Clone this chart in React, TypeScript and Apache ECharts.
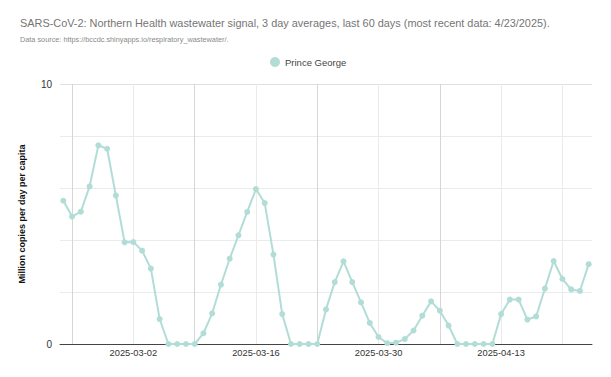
import React, { useEffect, useRef } from "react";
import * as echarts from "echarts";

const dates = [
  "2025-02-22", "2025-02-23", "2025-02-24", "2025-02-25", "2025-02-26", "2025-02-27", "2025-02-28",
  "2025-03-01", "2025-03-02", "2025-03-03", "2025-03-04", "2025-03-05", "2025-03-06", "2025-03-07",
  "2025-03-08", "2025-03-09", "2025-03-10", "2025-03-11", "2025-03-12", "2025-03-13", "2025-03-14",
  "2025-03-15", "2025-03-16", "2025-03-17", "2025-03-18", "2025-03-19", "2025-03-20", "2025-03-21",
  "2025-03-22", "2025-03-23", "2025-03-24", "2025-03-25", "2025-03-26", "2025-03-27", "2025-03-28",
  "2025-03-29", "2025-03-30", "2025-03-31", "2025-04-01", "2025-04-02", "2025-04-03", "2025-04-04",
  "2025-04-05", "2025-04-06", "2025-04-07", "2025-04-08", "2025-04-09", "2025-04-10", "2025-04-11",
  "2025-04-12", "2025-04-13", "2025-04-14", "2025-04-15", "2025-04-16", "2025-04-17", "2025-04-18",
  "2025-04-19", "2025-04-20", "2025-04-21", "2025-04-22", "2025-04-23",
];

const princeGeorge = [
  5.51, 4.9, 5.09, 6.06, 7.64, 7.51, 5.71,
  3.91, 3.92, 3.59, 2.9, 0.96, 0, 0,
  0, 0, 0.41, 1.18, 2.28, 3.28, 4.18,
  5.08, 5.96, 5.42, 3.44, 1.15, 0, 0,
  0, 0, 1.33, 2.38, 3.18, 2.38, 1.6,
  0.81, 0.27, 0.03, 0.05, 0.19, 0.52, 1.09,
  1.64, 1.28, 0.71, 0, 0, 0, 0,
  0, 1.15, 1.71, 1.71, 0.94, 1.06, 2.13,
  3.19, 2.5, 2.1, 2.04, 3.07,
];

const gridTickDates = [
  "2025-02-23", "2025-03-02", "2025-03-09", "2025-03-16", "2025-03-23",
  "2025-03-30", "2025-04-06", "2025-04-13", "2025-04-20",
];
const labelTickDates = ["2025-03-02", "2025-03-16", "2025-03-30", "2025-04-13"];
const yLabelValues = [0, 10];

const FONT = "'Liberation Sans', Arial, sans-serif";
const LINE_COLOR = "#b2ddd7";

export default function App() {
  const ref = useRef<HTMLDivElement>(null);
  useEffect(() => {
    if (!ref.current) return;
    const chart = echarts.init(ref.current, undefined, { renderer: "svg" });
    const ts = (d: string) => new Date(d + "T00:00:00").getTime();
    const DAY = 86400000;
    const first = ts(dates[0]);
    const last = ts(dates[dates.length - 1]);
    chart.setOption({
      animation: false,
      textStyle: { fontFamily: FONT },
      title: {
        text: "SARS-CoV-2: Northern Health wastewater signal, 3 day averages, last 60 days (most recent data: 4/23/2025).",
        subtext: "Data source: https://bccdc.shinyapps.io/respiratory_wastewater/.",
        left: 15,
        top: 12,
        itemGap: 8,
        textStyle: { fontSize: 10.9, fontWeight: "normal", color: "#757575", fontFamily: FONT },
        subtextStyle: { fontSize: 7.3, color: "#8a8a8a", fontFamily: FONT },
      },
      legend: {
        top: 52,
        left: 265,
        icon: "circle",
        itemWidth: 10,
        itemHeight: 10,
        itemGap: 10,
        textStyle: { fontSize: 9.5, color: "#444", fontFamily: FONT },
        data: ["Prince George"],
      },
      grid: { left: 60, right: 19, top: 84, bottom: 33, containLabel: false },
      xAxis: {
        type: "time",
        min: first - 0.38 * DAY,
        max: last + 0.38 * DAY,
        axisLine: { show: true, lineStyle: { color: "#444", width: 1 } },
        axisTick: { show: false, customValues: gridTickDates.map(ts) },
        axisLabel: {
          customValues: labelTickDates.map(ts),
          formatter: "{yyyy}-{MM}-{dd}",
          fontSize: 9.3,
          color: "#333",
          margin: 4,
          fontFamily: FONT,
        },
        splitLine: {
          show: true,
          lineStyle: { color: ["#ebebeb", "#d6d6d6"], width: 1 },
        },
      },
      yAxis: {
        type: "value",
        min: 0,
        max: 10,
        interval: 2,
        name: "Million copies per day per capita",
        nameLocation: "middle",
        nameGap: 34,
        nameTextStyle: { fontSize: 9, fontWeight: "bold", color: "#111", fontFamily: FONT },
        axisLine: { show: false },
        axisTick: { show: false },
        axisLabel: {
          customValues: yLabelValues,
          fontSize: 10,
          color: "#333",
          margin: 8,
          fontFamily: FONT,
        },
        splitLine: {
          show: true,
          lineStyle: { color: ["#ebebeb", "#ebebeb", "#ebebeb", "#ebebeb", "#ebebeb", "#e0e0e0"], width: 1 },
        },
      },
      series: [
        {
          name: "Prince George",
          type: "line",
          data: dates.map((d, i) => [ts(d), princeGeorge[i]]),
          symbol: "circle",
          symbolSize: 6,
          showSymbol: true,
          itemStyle: { color: LINE_COLOR },
          lineStyle: { color: LINE_COLOR, width: 2 },
          z: 5,
        },
      ],
    });
    return () => chart.dispose();
  }, []);
  return <div ref={ref} style={{ width: 611, height: 377, position: "absolute", left: 0, top: 0 }} />;
}
